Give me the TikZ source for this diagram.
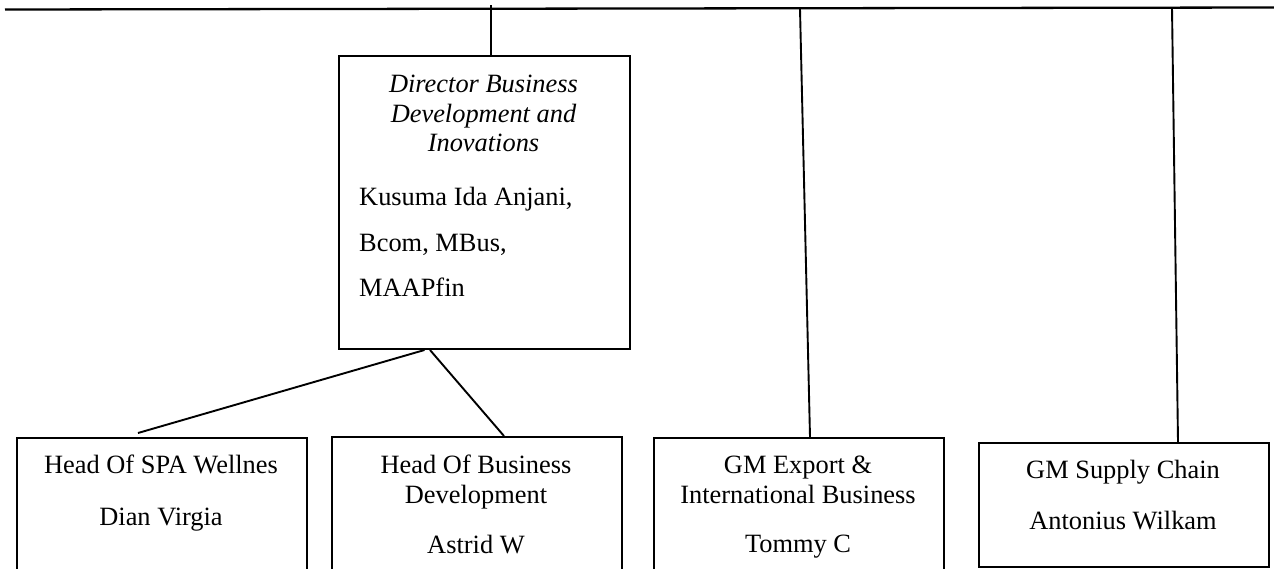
\documentclass[tikz,border=0pt]{standalone}
\usepackage{fontspec}
\setmainfont{Liberation Serif}
\begin{document}
\begin{tikzpicture}[x=1pt,y=-1pt,
  every node/.style={font=\fontsize{26.4}{30}\selectfont},
  box/.style={draw, line width=2pt, rectangle, anchor=north west, inner sep=0pt},
  txt/.style={anchor=base, inner sep=0pt},
  link/.style={line width=1.9pt}]
\useasboundingbox (0,0) rectangle (1274,568);
\clip (0,0) rectangle (1274,568);

% boxes
\node[box, minimum width=291pt, minimum height=293pt] (dir) at (338,55) {};
\node[box, minimum width=290pt, minimum height=165pt] (spa) at (16,437) {};
\node[box, minimum width=290pt, minimum height=165pt] (hbd) at (331,436) {};
\node[box, minimum width=290pt, minimum height=165pt] (gme) at (653,437) {};
\node[box, minimum width=290pt, minimum height=124pt] (gms) at (978,442) {};

% director text
\node[txt, font=\fontsize{26.4}{30}\selectfont\itshape] (d1) at (483.5,92) {Director Business};
\node[txt, font=\fontsize{26.4}{30}\selectfont\itshape] (d2) at (483.5,122) {Development and};
\node[txt, font=\fontsize{26.4}{30}\selectfont\itshape] (d3) at (483.5,151) {Inovations};
\node[txt, anchor=base west] (d4) at (359,205) {Kusuma Ida Anjani,};
\node[txt, anchor=base west] (d5) at (359,251) {Bcom, MBus,};
\node[txt, anchor=base west] (d6) at (359,296) {MAAPfin};

% lower boxes text
\node[txt] (s1) at (161,473) {Head Of SPA Wellnes};
\node[txt] (s2) at (161,525) {Dian Virgia};
\node[txt] (h1) at (476,473) {Head Of Business};
\node[txt] (h2) at (476,503) {Development};
\node[txt] (h3) at (476,553) {Astrid W};
\node[txt] (e1) at (798,473) {GM Export \&};
\node[txt] (e2) at (798,503) {International Business};
\node[txt] (e3) at (798,552) {Tommy C};
\node[txt] (g1) at (1123,478) {GM Supply Chain};
\node[txt] (g2) at (1123,529) {Antonius Wilkam};

% top rail and drop lines
\coordinate (tl) at (5,9.5);
\coordinate (tr) at (1274,7.5);
\coordinate (j1) at (491,5);
\coordinate (j2) at (800,9);
\coordinate (j3) at (1172,8);
\draw[link, line width=2.3pt] (tl) -- (tr);
\draw[link] (j1) -- (j1 |- dir.north);
\draw[link] (j2) -- ([xshift=11pt]gme.north);
\draw[link] (j3) -- ([xshift=54pt]gms.north);

% director to heads
\draw[link] ([xshift=-60pt]dir.south) -- ([xshift=-24pt,yshift=4pt]spa.north);
\draw[link] ([xshift=-54.5pt]dir.south) -- ([xshift=27pt]hbd.north);
\end{tikzpicture}
\end{document}
